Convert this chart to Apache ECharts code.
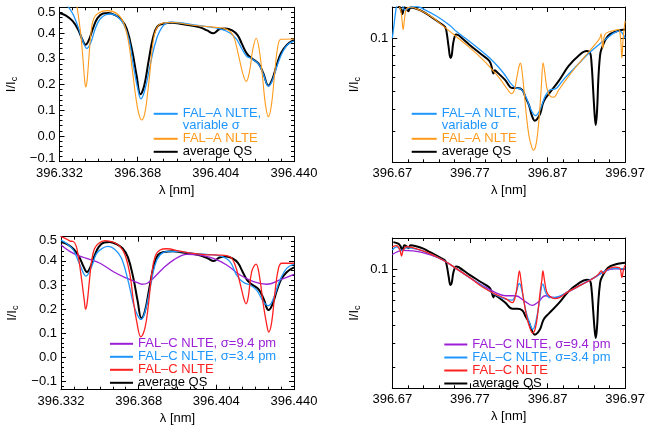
<!DOCTYPE html>
<html>
<head>
<meta charset="utf-8">
<script src="https://cdn.jsdelivr.net/npm/echarts@6/dist/echarts.min.js"></script>
<style>
html, body { margin: 0; padding: 0; background: #fff; }
#chart { width: 648px; height: 435px; }
</style>
</head>
<body>
<div id="chart"></div>
<script>
// tick labels
const tickShort = [396.332, 396.368, 396.404, 396.440]
const tickLong = [396.67, 396.77, 396.87, 396.97]
const tickLin = [-0.1, 0.0, 0.1, 0.2, 0.3, 0.4, 0.5]
const tickLog = [0.1]
const tickLogMinor = [0.02, 0.03, 0.04, 0.05, 0.06, 0.07, 0.08, 0.09]

// series names
const N_QS = 'average QS'
const N_AVAR = 'FAL–A NLTE, variable σ'
const N_A = 'FAL–A NLTE'
const N_C94 = 'FAL–C NLTE, σ=9.4 pm'
const N_C34 = 'FAL–C NLTE, σ=3.4 pm'
const N_C = 'FAL–C NLTE'

// [wavelength nm, I/Ic]  -- 396.332 .. 396.440 window
const qsShort = [
  [396.3320, 0.478], [396.3350, 0.468], [396.3380, 0.447], [396.3405, 0.415], [396.3425, 0.375],
  [396.3440, 0.354], [396.3455, 0.372], [396.3475, 0.420], [396.3495, 0.458], [396.3520, 0.476],
  [396.3545, 0.478], [396.3575, 0.470], [396.3605, 0.452], [396.3630, 0.415], [396.3655, 0.330],
  [396.3675, 0.235], [396.3693, 0.162], [396.3710, 0.195], [396.3730, 0.290], [396.3750, 0.380],
  [396.3770, 0.425], [396.3800, 0.437], [396.3840, 0.440], [396.3875, 0.436], [396.3920, 0.430],
  [396.3967, 0.422], [396.4000, 0.410], [396.4028, 0.399], [396.4055, 0.414], [396.4085, 0.418],
  [396.4115, 0.410], [396.4140, 0.392], [396.4160, 0.358], [396.4182, 0.321], [396.4205, 0.302],
  [396.4236, 0.282], [396.4259, 0.243], [396.4282, 0.196], [396.4300, 0.220], [396.4320, 0.275],
  [396.4340, 0.322], [396.4366, 0.353], [396.4400, 0.373]
]
const falAVarShort = [
  [396.3320, 0.535], [396.3345, 0.515], [396.3365, 0.497], [396.3385, 0.468], [396.3405, 0.425],
  [396.3425, 0.375], [396.3446, 0.340], [396.3465, 0.365], [396.3485, 0.418], [396.3505, 0.452],
  [396.3530, 0.470], [396.3555, 0.474], [396.3585, 0.465], [396.3615, 0.435], [396.3640, 0.375],
  [396.3660, 0.275], [396.3680, 0.185], [396.3695, 0.144], [396.3715, 0.185], [396.3740, 0.285],
  [396.3768, 0.380], [396.3799, 0.430], [396.3830, 0.442], [396.3875, 0.440], [396.3937, 0.432],
  [396.3998, 0.425], [396.4059, 0.416], [396.4105, 0.400], [396.4136, 0.375], [396.4159, 0.340],
  [396.4182, 0.310], [396.4205, 0.300], [396.4236, 0.280], [396.4259, 0.240], [396.4282, 0.194],
  [396.4300, 0.215], [396.4325, 0.280], [396.4350, 0.330], [396.4375, 0.358], [396.4400, 0.369]
]
const falAShort = [
  [396.3320, 0.560], [396.3390, 0.540], [396.3400, 0.505], [396.3408, 0.460], [396.3418, 0.395],
  [396.3428, 0.300], [396.3436, 0.215], [396.3441, 0.190], [396.3447, 0.215], [396.3455, 0.300],
  [396.3465, 0.400], [396.3477, 0.455], [396.3500, 0.478], [396.3540, 0.487], [396.3585, 0.475],
  [396.3615, 0.440], [396.3638, 0.365], [396.3655, 0.260], [396.3670, 0.160], [396.3684, 0.090],
  [396.3698, 0.062], [396.3712, 0.085], [396.3725, 0.160], [396.3738, 0.260], [396.3750, 0.360],
  [396.3765, 0.415], [396.3790, 0.437], [396.3840, 0.441], [396.3937, 0.430], [396.4029, 0.423],
  [396.4090, 0.415], [396.4120, 0.390], [396.4144, 0.315], [396.4165, 0.240], [396.4180, 0.212],
  [396.4195, 0.250], [396.4210, 0.335], [396.4226, 0.380], [396.4240, 0.335], [396.4255, 0.230],
  [396.4268, 0.125], [396.4282, 0.075], [396.4296, 0.120], [396.4310, 0.235], [396.4325, 0.345],
  [396.4340, 0.376], [396.4400, 0.377]
]
const falCShort = [
  [396.3320, 0.500], [396.3346, 0.490], [396.3362, 0.482], [396.3377, 0.480], [396.3390, 0.462],
  [396.3400, 0.420], [396.3416, 0.320], [396.3428, 0.235], [396.3434, 0.200], [396.3441, 0.225],
  [396.3452, 0.320], [396.3462, 0.400], [396.3475, 0.450], [396.3495, 0.473], [396.3524, 0.484],
  [396.3563, 0.477], [396.3593, 0.460], [396.3617, 0.424], [396.3640, 0.341], [396.3655, 0.238],
  [396.3671, 0.148], [396.3690, 0.085], [396.3709, 0.121], [396.3725, 0.217], [396.3740, 0.341],
  [396.3756, 0.417], [396.3779, 0.445], [396.3810, 0.450], [396.3872, 0.440], [396.3933, 0.431],
  [396.3995, 0.425], [396.4057, 0.424], [396.4103, 0.417], [396.4127, 0.383], [396.4150, 0.307],
  [396.4170, 0.235], [396.4178, 0.222], [396.4188, 0.250], [396.4204, 0.355], [396.4224, 0.386],
  [396.4239, 0.341], [396.4258, 0.217], [396.4274, 0.134], [396.4283, 0.105], [396.4297, 0.148],
  [396.4312, 0.272], [396.4328, 0.369], [396.4343, 0.390], [396.4400, 0.390]
]
const falC34Short = [
  [396.3320, 0.486], [396.3346, 0.472], [396.3377, 0.445], [396.3408, 0.383], [396.3436, 0.337],
  [396.3462, 0.376], [396.3485, 0.431], [396.3516, 0.454], [396.3539, 0.460], [396.3570, 0.447],
  [396.3601, 0.410], [396.3632, 0.314], [396.3655, 0.224], [396.3674, 0.176], [396.3691, 0.157],
  [396.3709, 0.187], [396.3733, 0.286], [396.3756, 0.383], [396.3779, 0.424], [396.3810, 0.438],
  [396.3872, 0.438], [396.3933, 0.431], [396.3995, 0.427], [396.4057, 0.421], [396.4103, 0.397],
  [396.4134, 0.341], [396.4165, 0.311], [396.4196, 0.300], [396.4227, 0.279], [396.4258, 0.231],
  [396.4281, 0.214], [396.4305, 0.245], [396.4335, 0.321], [396.4366, 0.369], [396.4400, 0.386]
]
const falC94Short = [
  [396.3320, 0.466], [396.3377, 0.431], [396.3439, 0.410], [396.3501, 0.390], [396.3563, 0.355],
  [396.3624, 0.328], [396.3671, 0.311], [396.3695, 0.303], [396.3720, 0.307], [396.3748, 0.328],
  [396.3794, 0.369], [396.3841, 0.403], [396.3903, 0.427], [396.3964, 0.424], [396.4026, 0.410],
  [396.4088, 0.383], [396.4150, 0.341], [396.4212, 0.314], [396.4274, 0.303], [396.4335, 0.321],
  [396.4400, 0.344]
]

// [wavelength nm, I/Ic]  -- 396.67 .. 396.97 window (log scale)
const qsLong = [
  [396.6713, 0.157], [396.6777, 0.153], [396.6805, 0.147], [396.6830, 0.137], [396.6855, 0.149],
  [396.6880, 0.147], [396.6908, 0.142], [396.6935, 0.149], [396.7020, 0.146], [396.7100, 0.141],
  [396.7188, 0.133], [396.7300, 0.123], [396.7379, 0.116], [396.7400, 0.108], [396.7425, 0.090],
  [396.7450, 0.0775], [396.7465, 0.080], [396.7485, 0.094], [396.7510, 0.104], [396.7527, 0.105],
  [396.7610, 0.099], [396.7697, 0.0917], [396.7846, 0.0812], [396.7952, 0.0744], [396.7980, 0.0690],
  [396.8003, 0.0633], [396.8020, 0.0660], [396.8037, 0.0652], [396.8150, 0.0585], [396.8249, 0.0524],
  [396.8312, 0.0524], [396.8376, 0.0510], [396.8420, 0.0460], [396.8461, 0.0420], [396.8500, 0.0365],
  [396.8537, 0.0343], [396.8575, 0.0355], [396.8609, 0.0380], [396.8650, 0.0440], [396.8716, 0.0485],
  [396.8843, 0.0573], [396.8970, 0.0696], [396.9097, 0.0794], [396.9204, 0.0847], [396.9246, 0.0835],
  [396.9267, 0.0727], [396.9288, 0.0513], [396.9309, 0.0362], [396.9322, 0.0325], [396.9339, 0.0395],
  [396.9356, 0.0600], [396.9377, 0.0800], [396.9394, 0.0866], [396.9479, 0.103], [396.9607, 0.110],
  [396.9700, 0.112]
]
const falAVarLong = [
  [396.6700, 0.100], [396.6721, 0.118], [396.6742, 0.140], [396.6764, 0.155], [396.6806, 0.158],
  [396.6849, 0.146], [396.6870, 0.144], [396.6933, 0.150], [396.7018, 0.151], [396.7103, 0.146],
  [396.7273, 0.133], [396.7443, 0.118], [396.7527, 0.109], [396.7697, 0.096], [396.7846, 0.085],
  [396.7952, 0.0777], [396.8079, 0.068], [396.8164, 0.061], [396.8228, 0.0555], [396.8291, 0.0525],
  [396.8355, 0.0518], [396.8419, 0.047], [396.8482, 0.040], [396.8546, 0.0366], [396.8609, 0.040],
  [396.8673, 0.0475], [396.8737, 0.0513], [396.8800, 0.0518], [396.8885, 0.057], [396.8928, 0.0600],
  [396.9055, 0.0685], [396.9140, 0.075], [396.9225, 0.0818], [396.9310, 0.088], [396.9394, 0.0945],
  [396.9479, 0.101], [396.9564, 0.1075], [396.9628, 0.110], [396.9670, 0.106], [396.9700, 0.100]
]
const falALong = [
  [396.6700, 0.165], [396.6760, 0.158], [396.6806, 0.145], [396.6827, 0.125], [396.6840, 0.112],
  [396.6857, 0.128], [396.6882, 0.146], [396.6933, 0.150], [396.7018, 0.146], [396.7188, 0.134],
  [396.7358, 0.117], [396.7527, 0.102], [396.7697, 0.0885], [396.7867, 0.0758], [396.7994, 0.066],
  [396.8079, 0.0598], [396.8164, 0.0531], [396.8240, 0.0487], [396.8274, 0.0513], [396.8304, 0.060],
  [396.8334, 0.0696], [396.8351, 0.0724], [396.8372, 0.065], [396.8397, 0.051], [396.8427, 0.037],
  [396.8461, 0.0282], [396.8495, 0.0245], [396.8516, 0.0234], [396.8546, 0.0245], [396.8576, 0.030],
  [396.8601, 0.040], [396.8622, 0.055], [396.8643, 0.0727], [396.8665, 0.064], [396.8694, 0.052],
  [396.8737, 0.047], [396.8779, 0.0465], [396.8843, 0.051], [396.8928, 0.0575], [396.9055, 0.068],
  [396.9182, 0.079], [396.9310, 0.092], [396.9373, 0.100], [396.9390, 0.106], [396.9412, 0.088],
  [396.9440, 0.105], [396.9564, 0.111], [396.9615, 0.112], [396.9641, 0.100], [396.9658, 0.0775],
  [396.9675, 0.100], [396.9700, 0.125]
]
const falCLong = [
  [396.6700, 0.145], [396.6755, 0.148], [396.6798, 0.138], [396.6819, 0.125], [396.6840, 0.137],
  [396.6883, 0.146], [396.6968, 0.143], [396.7138, 0.133], [396.7351, 0.117], [396.7521, 0.102],
  [396.7691, 0.088], [396.7862, 0.075], [396.8032, 0.0665], [396.8160, 0.062], [396.8245, 0.058],
  [396.8287, 0.065], [396.8317, 0.083], [396.8338, 0.098], [396.8359, 0.083], [396.8394, 0.060],
  [396.8436, 0.045], [396.8479, 0.0375], [396.8508, 0.0352], [396.8543, 0.038], [396.8577, 0.050],
  [396.8606, 0.070], [396.8628, 0.085], [396.8640, 0.098], [396.8662, 0.083], [396.8691, 0.069],
  [396.8734, 0.064], [396.8798, 0.062], [396.8968, 0.0695], [396.9138, 0.078], [396.9266, 0.085],
  [396.9351, 0.092], [396.9394, 0.098], [396.9415, 0.094], [396.9479, 0.101], [396.9564, 0.104],
  [396.9628, 0.103], [396.9658, 0.088], [396.9679, 0.100], [396.9700, 0.108]
]
const falC34Long = [
  [396.6700, 0.138], [396.6755, 0.145], [396.6819, 0.137], [396.6883, 0.143], [396.7011, 0.140],
  [396.7181, 0.130], [396.7351, 0.117], [396.7521, 0.102], [396.7691, 0.088], [396.7862, 0.076],
  [396.8032, 0.066], [396.8160, 0.0615], [396.8245, 0.0605], [396.8287, 0.066], [396.8338, 0.0795],
  [396.8372, 0.070], [396.8423, 0.050], [396.8479, 0.040], [396.8508, 0.0375], [396.8543, 0.041],
  [396.8594, 0.058], [396.8640, 0.079], [396.8679, 0.068], [396.8734, 0.063], [396.8840, 0.064],
  [396.8968, 0.0695], [396.9138, 0.078], [396.9308, 0.088], [396.9436, 0.0975], [396.9564, 0.102],
  [396.9700, 0.101]
]
const falC94Long = [
  [396.6700, 0.128], [396.6840, 0.137], [396.6968, 0.136], [396.7181, 0.128], [396.7351, 0.117],
  [396.7521, 0.102], [396.7691, 0.088], [396.7862, 0.077], [396.8032, 0.0685], [396.8160, 0.065],
  [396.8287, 0.065], [396.8415, 0.059], [396.8500, 0.0555], [396.8585, 0.059], [396.8670, 0.065],
  [396.8798, 0.063], [396.8968, 0.0695], [396.9138, 0.078], [396.9308, 0.088], [396.9436, 0.097],
  [396.9564, 0.101], [396.9700, 0.101]
]

const FONT = 'Liberation Sans'
const BLUE = '#1e96ff'
const ORANGE = '#ff9a1a'
const RED = '#ff2020'
const PURPLE = '#9a1fd6'
const BLACK = '#000000'

function steps(lo, hi, step) {
  const out = []
  for (let v = lo; v <= hi + 1e-9; v += step) out.push(Math.round(v * 1e6) / 1e6)
  return out
}
function inRange(list, lo, hi) {
  return list.filter(v => v >= lo - 1e-9 && v <= hi + 1e-9)
}

// four axes per side pair: main bottom, minor bottom, main top, minor top
function makeX(g, c) {
  const base = { type: 'value', gridIndex: g, min: c.min, max: c.max, splitLine: { show: false } }
  const tick = (vals, len) => ({ inside: true, length: len, customValues: vals, lineStyle: { color: '#000' } })
  return [
    Object.assign({}, base, {
      position: 'bottom',
      axisLine: { onZero: false, lineStyle: { color: '#000', width: 1 } },
      axisTick: tick(c.major, 5),
      axisLabel: { customValues: c.major, formatter: c.fmt, margin: 5, color: '#000', fontSize: 13, fontFamily: FONT },
      name: 'λ [nm]', nameLocation: 'middle', nameGap: c.nameGap,
      nameTextStyle: { color: '#000', fontSize: 13, fontFamily: FONT }
    }),
    Object.assign({}, base, { position: 'bottom', axisLine: { show: false, onZero: false }, axisTick: tick(c.minor, 3), axisLabel: { show: false } }),
    Object.assign({}, base, { position: 'top', axisLine: { onZero: false, lineStyle: { color: '#000', width: 1 } }, axisTick: tick(c.major, 5), axisLabel: { show: false } }),
    Object.assign({}, base, { position: 'top', axisLine: { show: false, onZero: false }, axisTick: tick(c.minor, 3), axisLabel: { show: false } })
  ]
}
function makeY(g, c) {
  const base = { type: c.type, gridIndex: g, min: c.min, max: c.max, splitLine: { show: false } }
  if (c.type === 'log') base.logBase = 10
  const tick = (vals, len) => ({ inside: true, length: len, customValues: vals, lineStyle: { color: '#000' } })
  return [
    Object.assign({}, base, {
      position: 'left',
      axisLine: { onZero: false, lineStyle: { color: '#000', width: 1 } },
      axisTick: tick(c.major, 5),
      axisLabel: {
        customValues: c.labels, formatter: c.fmt, margin: 4, color: '#000', fontSize: 13, fontFamily: FONT,
        rich: { t: { padding: [c.shiftTop || 0, 0, 0, 0] }, b: { padding: [0, 0, c.shiftBottom || 0, 0] } }
      },
      name: 'I/I{c|c}', nameLocation: 'middle', nameGap: c.nameGap,
      nameTextStyle: {
        color: '#000', fontSize: 13, fontFamily: FONT,
        rich: { c: { fontSize: 9, fontFamily: FONT, color: '#000', padding: [7, 0, 0, 0] } }
      }
    }),
    Object.assign({}, base, { position: 'left', axisLine: { show: false, onZero: false }, axisTick: tick(c.minor, 3), axisLabel: { show: false } }),
    Object.assign({}, base, { position: 'right', axisLine: { onZero: false, lineStyle: { color: '#000', width: 1 } }, axisTick: tick(c.major, 5), axisLabel: { show: false } }),
    Object.assign({}, base, { position: 'right', axisLine: { show: false, onZero: false }, axisTick: tick(c.minor, 3), axisLabel: { show: false } })
  ]
}

const fmtShort = v => v.toFixed(3)
const fmtLong = v => v.toFixed(2)
const fmtLin = v => {
  const s = (Math.abs(v) < 1e-9 ? 0 : v).toFixed(1).replace('-', '−')
  if (Math.abs(v - 0.5) < 1e-9) return '{t|' + s + '}'
  if (Math.abs(v + 0.1) < 1e-9) return '{b|' + s + '}'
  return s
}
const fmtLog = v => v.toFixed(1)

const xShort = { min: 396.332, max: 396.440, major: tickShort, minor: steps(396.332, 396.440, 0.006), fmt: fmtShort, nameGap: 22 }
const xLong = { min: 396.67, max: 396.97, major: tickLong, minor: steps(396.67, 396.97, 0.02), fmt: fmtLong, nameGap: 22 }

const yTL = { type: 'value', min: -0.1, max: 0.5, major: tickLin, labels: tickLin, minor: inRange(steps(-0.14, 0.5, 0.02), -0.1, 0.5), fmt: fmtLin, nameGap: 40, shiftTop: 10, shiftBottom: 7 }
const yBL = { type: 'value', min: -0.134, max: 0.5, major: tickLin, labels: tickLin, minor: inRange(steps(-0.14, 0.5, 0.02), -0.134, 0.5), fmt: fmtLin, nameGap: 41, shiftTop: 7, shiftBottom: 0 }
const yTR = { type: 'log', min: 0.02, max: 0.15, major: tickLog, labels: tickLog, minor: tickLogMinor, fmt: fmtLog, nameGap: 30 }
const yBR = { type: 'log', min: 0.0142, max: 0.168, major: tickLog, labels: tickLog, minor: tickLogMinor, fmt: fmtLog, nameGap: 30 }

function line(g, name, data, color, width) {
  return {
    type: 'line', name, data, xAxisIndex: g * 4, yAxisIndex: g * 4,
    symbol: 'none', smooth: 0.4, clip: true, color,
    lineStyle: { color, width }, itemStyle: { color }, emphasis: { disabled: true }
  }
}

function legendBox(left, top, width, items) {
  return {
    orient: 'vertical', left, top, padding: 0, itemGap: 0, itemWidth: width, itemHeight: 12,
    selectedMode: false,
    // only the line part of the legend icon, no marker
    itemStyle: { color: 'rgba(0,0,0,0)', borderColor: 'rgba(0,0,0,0)', borderWidth: 0 },
    textStyle: { fontSize: 13, fontFamily: FONT, lineHeight: 12 },
    formatter: n => n === N_AVAR ? '\nFAL–A NLTE,\nvariable σ' : n,
    data: items.map(([name, color]) => ({ name, textStyle: { color } }))
  }
}

const chart = echarts.init(document.getElementById('chart'))
chart.setOption({
  animation: false,
  backgroundColor: '#fff',
  grid: [
    { left: 59.5, top: 7.3, width: 234.5, height: 154.4 },
    { left: 392.3, top: 7, width: 235, height: 155.3 },
    { left: 61, top: 236.7, width: 233, height: 153 },
    { left: 392.3, top: 238, width: 235, height: 150.3 }
  ],
  xAxis: [].concat(makeX(0, xShort), makeX(1, xLong), makeX(2, xShort), makeX(3, xLong)),
  yAxis: [].concat(makeY(0, yTL), makeY(1, yTR), makeY(2, yBL), makeY(3, yBR)),
  legend: [
    legendBox(152.7, 95.3, 24, [[N_AVAR, BLUE], [N_A, ORANGE], [N_QS, BLACK]]),
    legendBox(410.7, 95.3, 25, [[N_AVAR, BLUE], [N_A, ORANGE], [N_QS, BLACK]]),
    legendBox(109, 337.3, 23, [[N_C94, PURPLE], [N_C34, BLUE], [N_C, RED], [N_QS, BLACK]]),
    legendBox(443.3, 338, 23, [[N_C94, PURPLE], [N_C34, BLUE], [N_C, RED], [N_QS, BLACK]])
  ],
  series: [
    line(0, N_QS, qsShort, BLACK, 2),
    line(0, N_AVAR, falAVarShort, BLUE, 1.3),
    line(0, N_A, falAShort, ORANGE, 1.1),

    line(1, N_QS, qsLong, BLACK, 2),
    line(1, N_AVAR, falAVarLong, BLUE, 1.3),
    line(1, N_A, falALong, ORANGE, 1.1),

    line(2, N_QS, qsShort, BLACK, 2),
    line(2, N_C94, falC94Short, PURPLE, 1.3),
    line(2, N_C34, falC34Short, BLUE, 1.3),
    line(2, N_C, falCShort, RED, 1.3),

    line(3, N_QS, qsLong, BLACK, 2),
    line(3, N_C94, falC94Long, PURPLE, 1.3),
    line(3, N_C34, falC34Long, BLUE, 1.3),
    line(3, N_C, falCLong, RED, 1.3)
  ]
})
</script>
</body>
</html>
